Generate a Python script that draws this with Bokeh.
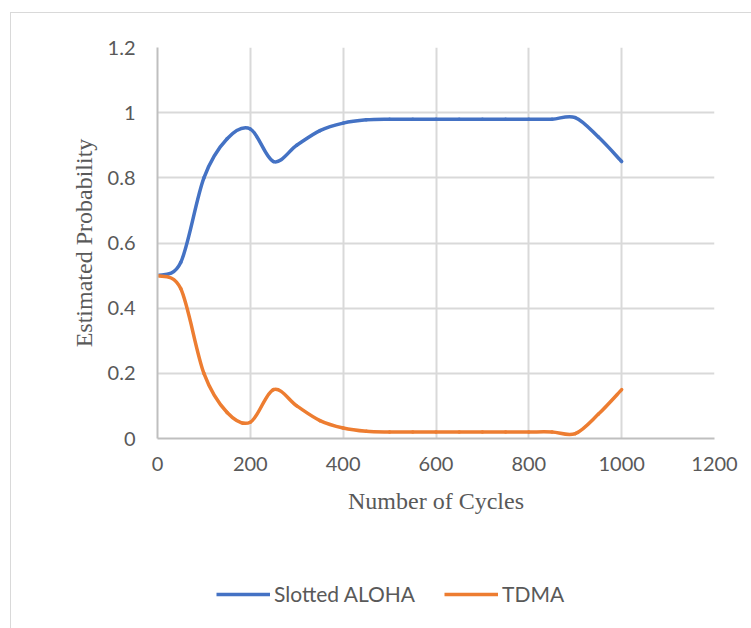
from bokeh.plotting import figure
from bokeh.layouts import column
from bokeh.models import (ColumnDataSource, FixedTicker, NumeralTickFormatter,
                          Legend, LegendItem, Range1d)
from bokeh.embed import file_html
from bokeh.resources import INLINE

# ---- data ----
cycles = [0, 50, 100, 150, 200, 250, 300, 350, 400, 450, 500, 550, 600,
          650, 700, 750, 800, 850, 900, 950, 1000]
slotted_aloha = [0.50, 0.54, 0.80, 0.92, 0.95, 0.85, 0.90, 0.945, 0.968, 0.978,
                 0.98, 0.98, 0.98, 0.98, 0.98, 0.98, 0.98, 0.98, 0.985, 0.925, 0.85]
tdma = [0.50, 0.46, 0.20, 0.08, 0.05, 0.15, 0.10, 0.055, 0.032, 0.022,
        0.02, 0.02, 0.02, 0.02, 0.02, 0.02, 0.02, 0.02, 0.015, 0.075, 0.15]
x_ticks = [0, 200, 400, 600, 800, 1000, 1200]
y_ticks = [0, 0.2, 0.4, 0.6, 0.8, 1.0, 1.2]
series_names = ["Slotted ALOHA", "TDMA"]
series_colors = ["#4472C4", "#ED7D31"]
series_values = [slotted_aloha, tdma]


def smooth_segments(xs, ys):
    """Bezier segments through the points (Excel-style smoothed line)."""
    n = len(xs)
    d = dict(x0=[], y0=[], x1=[], y1=[], cx0=[], cy0=[], cx1=[], cy1=[])
    for i in range(n - 1):
        xp, yp = (xs[i - 1], ys[i - 1]) if i > 0 else (xs[i], ys[i])
        xn, yn = (xs[i + 2], ys[i + 2]) if i + 2 < n else (xs[i + 1], ys[i + 1])
        d["x0"].append(xs[i]); d["y0"].append(ys[i])
        d["x1"].append(xs[i + 1]); d["y1"].append(ys[i + 1])
        d["cx0"].append(xs[i] + (xs[i + 1] - xp) / 6.0)
        d["cy0"].append(ys[i] + (ys[i + 1] - yp) / 6.0)
        d["cx1"].append(xs[i + 1] - (xn - xs[i]) / 6.0)
        d["cy1"].append(ys[i + 1] - (yn - ys[i]) / 6.0)
    return ColumnDataSource(d)


OFF_X, OFF_Y = 11, 13          # outer chart border offset (margin + border)
W = 751 - OFF_X
H_MAIN = 540
H_LEG = 628 - OFF_Y - H_MAIN
FRAME_LEFT = 157

p = figure(width=W, height=H_MAIN, output_backend="svg", toolbar_location=None,
           x_range=Range1d(0, 1200), y_range=Range1d(0, 1.2),
           min_border_left=FRAME_LEFT - OFF_X, min_border_right=W - (714 - OFF_X),
           min_border_top=47 - OFF_Y, min_border_bottom=H_MAIN - (438 - OFF_Y))
p.outline_line_color = None
p.background_fill_color = "white"
p.border_fill_color = "white"

tick_font = "Lato"
title_font = "Liberation Serif"
txt_color = "#595959"

for ax in (p.xaxis[0], p.yaxis[0]):
    ax.major_tick_line_color = None
    ax.minor_tick_line_color = None
    ax.major_tick_in = 0
    ax.major_tick_out = 0
    ax.axis_line_color = "#bfbfbf"
    ax.axis_line_width = 2
    ax.major_label_text_font = tick_font
    ax.major_label_text_font_size = "20px"
    ax.major_label_text_color = txt_color
    ax.axis_label_text_font = title_font
    ax.axis_label_text_font_size = "24px"
    ax.axis_label_text_font_style = "normal"
    ax.axis_label_text_color = txt_color

p.xaxis.ticker = FixedTicker(ticks=x_ticks)
p.yaxis.ticker = FixedTicker(ticks=y_ticks)
p.yaxis.formatter = NumeralTickFormatter(format="0.[0]")
p.xaxis.axis_label = "Number of Cycles"
p.yaxis.axis_label = "Estimated Probability"
p.xaxis.major_label_standoff = 18
p.yaxis.major_label_standoff = 22
p.xaxis.axis_label_standoff = 14
p.yaxis.axis_label_standoff = 8

p.xgrid.grid_line_color = "#d9d9d9"
p.ygrid.grid_line_color = "#d9d9d9"
p.xgrid.grid_line_width = 2
p.ygrid.grid_line_width = 2

for ys, color in zip(series_values, series_colors):
    src = smooth_segments(cycles, ys)
    p.bezier(x0="x0", y0="y0", x1="x1", y1="y1", cx0="cx0", cy0="cy0",
             cx1="cx1", cy1="cy1", source=src, line_color=color,
             line_width=3.5, line_cap="round")

# ---- legend strip below the chart ----
lf = figure(width=W, height=H_LEG, output_backend="svg", toolbar_location=None,
            x_axis_type=None, y_axis_type=None,
            x_range=Range1d(-20, -10), y_range=Range1d(-20, -10),
            min_border=0)
lf.outline_line_color = None
lf.grid.visible = False
lf.border_fill_color = "white"
leg_items = []
for name, ys, color in zip(series_names, series_values, series_colors):
    r = lf.line(cycles, ys, line_color=color, line_width=3.5)
    leg_items.append(LegendItem(label=name, renderers=[r]))

legend = Legend(items=leg_items, orientation="horizontal",
                location=(216 - FRAME_LEFT, 22),
                border_line_color=None, background_fill_alpha=0,
                label_text_font=tick_font, label_text_font_size="21px",
                label_text_color=txt_color, glyph_width=54, glyph_height=20,
                label_standoff=4, spacing=29, padding=0, margin=0)
lf.add_layout(legend, "center")

layout = column(p, lf, spacing=0,
                styles={"margin-left": "10px", "margin-top": "12px",
                        "border-left": "1px solid #d9d9d9",
                        "border-top": "1px solid #d9d9d9"})

open("out.html", "w").write(file_html(layout, INLINE))
